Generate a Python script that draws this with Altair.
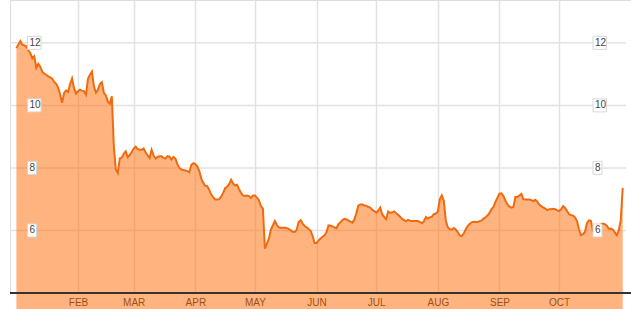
import altair as alt
import pandas as pd

start_date = "2013-01-01"
values = [
    11.83, 11.95, 12.06, 11.94, 11.92, 11.89, 11.76, 11.67, 11.50, 11.57,
    11.20, 11.33, 11.24, 11.08, 11.02, 10.98, 10.93, 10.90, 10.85, 10.75,
    10.69, 10.57, 10.35, 10.08, 10.40, 10.48, 10.43, 10.68, 10.86, 10.55,
    10.38, 10.45, 10.50, 10.47, 10.45, 10.34, 10.85, 10.98, 11.08, 10.60,
    10.41, 10.50, 10.68, 10.74, 10.40, 10.32, 10.12, 10.05, 10.29, 8.70,
    7.95, 7.84, 8.30, 8.33, 8.45, 8.53, 8.34, 8.42, 8.51, 8.62,
    8.68, 8.60, 8.58, 8.58, 8.62, 8.50, 8.40, 8.32, 8.58, 8.40,
    8.30, 8.35, 8.37, 8.37, 8.32, 8.30, 8.38, 8.36, 8.27, 8.35,
    8.30, 8.12, 8.00, 7.95, 7.93, 7.92, 7.90, 7.86, 8.10, 8.15,
    8.12, 8.05, 7.90, 7.66, 7.52, 7.43, 7.42, 7.30, 7.15, 7.06,
    6.99, 6.99, 7.00, 7.08, 7.20, 7.35, 7.40, 7.48, 7.62, 7.50,
    7.44, 7.46, 7.32, 7.20, 7.12, 7.10, 7.12, 7.10, 7.04, 7.12,
    7.12, 7.05, 6.97, 6.78, 6.70, 5.42, 5.58, 5.74, 6.03, 6.16,
    6.30, 6.18, 6.10, 6.09, 6.09, 6.09, 6.07, 6.05, 6.00, 5.96,
    5.95, 6.02, 6.28, 6.33, 6.22, 6.14, 6.10, 6.05, 5.99, 5.82,
    5.60, 5.60, 5.68, 5.74, 5.80, 5.84, 5.95, 6.16, 6.15, 6.13,
    6.10, 6.07, 6.20, 6.26, 6.33, 6.37, 6.35, 6.32, 6.28, 6.25,
    6.35, 6.55, 6.79, 6.83, 6.83, 6.80, 6.79, 6.75, 6.73, 6.66,
    6.62, 6.57, 6.63, 6.73, 6.52, 6.43, 6.36, 6.61, 6.56, 6.58,
    6.61, 6.55, 6.50, 6.44, 6.37, 6.33, 6.29, 6.34, 6.31, 6.30,
    6.30, 6.30, 6.30, 6.27, 6.23, 6.30, 6.43, 6.38, 6.42, 6.44,
    6.52, 6.54, 6.60, 7.00, 7.12, 6.95, 6.32, 6.10, 6.04, 6.03,
    6.08, 6.03, 5.95, 5.84, 5.82, 5.90, 6.03, 6.14, 6.21, 6.26,
    6.28, 6.27, 6.27, 6.30, 6.32, 6.38, 6.42, 6.48, 6.56, 6.68,
    6.75, 6.92, 7.05, 7.18, 7.19, 7.10, 6.95, 6.83, 6.76, 6.73,
    6.75, 7.07, 7.07, 7.12, 7.17, 7.00, 6.99, 6.99, 6.99, 6.97,
    6.94, 6.98, 6.93, 6.83, 6.78, 6.74, 6.70, 6.65, 6.68, 6.68,
    6.69, 6.68, 6.64, 6.62, 6.68, 6.78, 6.72, 6.62, 6.52, 6.49,
    6.48, 6.42, 6.30, 6.03, 5.85, 5.88, 5.95, 6.23, 6.32, 6.31,
    6.00, 6.05, 6.10, 6.15, 6.20, 6.22, 6.20, 6.15, 6.05, 6.06,
    6.03, 5.94, 5.85, 6.00, 6.32, 7.36,
]
month_numbers = [2, 3, 4, 5, 6, 7, 8, 9, 10]
tick_values = [6, 8, 10, 12]
y_min, y_max = 4, 13.37

dates = pd.date_range(start_date, periods=len(values), freq="D")
df = pd.DataFrame({"date": dates.strftime("%Y-%m-%d"), "value": values})
ticks = pd.DataFrame({"v": tick_values, "label": [str(t) for t in tick_values]})

FONT = "Liberation Sans"
yscale = alt.Scale(domain=[y_min, y_max], zero=False, nice=False)
xscale = alt.Scale(
    type="utc",
    domain=[
        alt.DateTime(year=2012, month=12, date=28, hours=18, minutes=40, utc=True),
        alt.DateTime(year=2013, month=11, date=6, hours=4, utc=True),
    ],
)

hgrid = alt.Chart(ticks).mark_rule(color="#e2e2e2", strokeWidth=1.5).encode(
    y=alt.Y("v:Q", scale=yscale, axis=None),
    x=alt.value(0),
    x2=alt.value(616),
)

area = alt.Chart(df).mark_area(color="#ff6a00", opacity=0.5).encode(
    x=alt.X(
        "date:T",
        scale=xscale,
        title=None,
        axis=alt.Axis(
            values=[alt.DateTime(year=2013, month=m, date=1, utc=True) for m in month_numbers],
            labelExpr="upper(utcFormat(datum.value, '%b'))",
            grid=True,
            gridColor="#e2e2e2",
            gridWidth=1.5,
            ticks=False,
            domain=False,
            labelFont=FONT,
            labelFontSize=10,
            labelColor="#333333",
            labelPadding=4,
        ),
    ),
    y=alt.Y("value:Q", scale=yscale, axis=None),
)

line = alt.Chart(df).mark_line(color="#f06a10", strokeWidth=2).encode(
    x=alt.X("date:T", scale=xscale),
    y=alt.Y("value:Q", scale=yscale),
)

baseline = alt.Chart(ticks).mark_rule(color="#333333", strokeWidth=1.5).encode(
    y=alt.datum(y_min, scale=yscale),
    x=alt.value(0),
    x2=alt.value(621),
)

def label_layers(left):
    wide = alt.Chart(ticks).transform_filter("datum.v >= 10").mark_rect(
        height=13, fill="white", stroke="#d8d8d8", strokeWidth=1
    ).encode(
        y=alt.Y("v:Q", scale=yscale), x=alt.value(left), x2=alt.value(left + 13.5)
    )
    narrow = alt.Chart(ticks).transform_filter("datum.v < 10").mark_rect(
        height=13, fill="white", stroke="#d8d8d8", strokeWidth=1
    ).encode(
        y=alt.Y("v:Q", scale=yscale), x=alt.value(left), x2=alt.value(left + 9)
    )
    text = alt.Chart(ticks).mark_text(
        align="left", baseline="middle", font=FONT, fontSize=10, color="#444444"
    ).encode(
        y=alt.Y("v:Q", scale=yscale), x=alt.value(left + 2), text="label:N"
    )
    return wide + narrow + text

chart = alt.layer(
    hgrid, area, line, baseline, label_layers(17.5), label_layers(583)
).properties(
    width=621,
    height=293,
    padding={"left": 10, "top": 0, "right": 0, "bottom": 16},
    autosize="none",
).configure_view(stroke=None).configure(background="white")

chart.save("out.html", embed_options={"renderer": "svg", "actions": False})
